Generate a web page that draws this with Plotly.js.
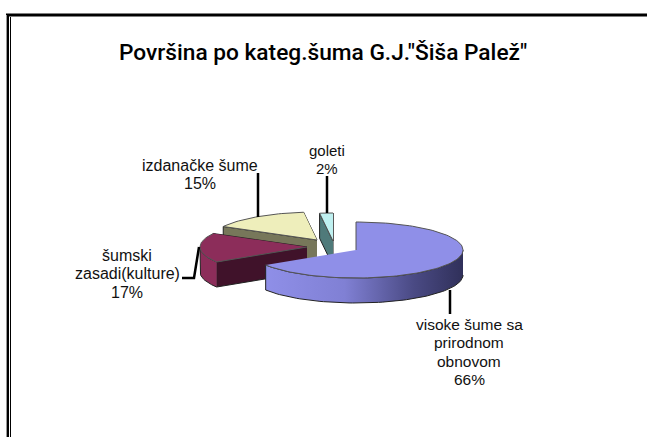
<!DOCTYPE html>
<html><head><meta charset="utf-8">
<script src="https://cdn.plot.ly/plotly-3.0.1.min.js"></script>
<style>html,body{margin:0;padding:0;background:#fff}</style></head>
<body><div id="c" style="width:647px;height:437px"></div>
<script>
const categories = ['visoke šume sa<br>prirodnom<br>obnovom','šumski<br>zasadi(kulture)','izdanačke šume','goleti'];
const shares = [66, 17, 15, 2];
const percentLabels = ['66%','17%','15%','2%'];
const topColors = ['#8f8fe8','#8c2d5a','#eeeebb','#bff0f0'];
const sideColors = ['#3c3c6c','#40122a','#77775a','#4f7a7a'];
const titleText = 'Površina po kateg.šuma G.J."Šiša Palež"';

// tilted-pie projection
const RX=107, RY=28, DEPTH=25;
const apex = [[356,250],[307,247],[317,240],[333,241]];
const total = shares.reduce((a,b)=>a+b,0);
const pt=(c,deg,dy=0)=>{const r=deg*Math.PI/180;return [c[0]+RX*Math.sin(r), c[1]-RY*Math.cos(r)+dy];};
function arc(c,a,b,dy=0){const n=Math.max(2,Math.ceil(Math.abs(b-a)/2)),o=[];
  for(let i=0;i<=n;i++)o.push(pt(c,a+(b-a)*i/n,dy));return o;}
function poly(points,color,extra={},lineColor='#222'){
  return Object.assign({type:'scatter',mode:'lines',x:points.map(p=>p[0]),y:points.map(p=>p[1]),
    fill:'toself',fillcolor:color,line:{color:lineColor,width:1},hoverinfo:'skip',showlegend:false},extra);}
const slices=[];let acc=0;
shares.forEach((v,i)=>{slices.push([acc,acc+v/total*360]);acc+=v/total*360;});
const traces=[];
const drawOrder=[3,2,1,0];
drawOrder.forEach(i=>{
  const [a,b]=slices[i],c=apex[i];
  if(i!==0){
    const e=pt(c,a); const e2=pt(c,b);
    traces.push(poly([c,e2,[e2[0],e2[1]+DEPTH],[c[0],c[1]+DEPTH]],sideColors[i]));
    traces.push(poly([c,e,[e[0],e[1]+DEPTH],[c[0],c[1]+DEPTH]],sideColors[i]));
  }
  const wa=Math.max(a,90),wb=Math.min(b,270);
  if(wb>wa){
    const top=arc(c,wa,wb),bot=arc(c,wb,wa,DEPTH);
    const extra = i===0 ? {fillgradient:{type:'horizontal',colorscale:[[0,'#8f8fe8'],[0.4,'#8080d4'],[0.75,'#4a4a84'],[1,'#30305a']]}} : (i===1?{fillcolor:'#8c2d5a'}:{});
    traces.push(poly(top.concat(bot),sideColors[i],extra));
  }
  traces.push(poly([c].concat(arc(c,a,b)),topColors[i],{},'#555'));
});
const seg=(pts)=>({type:'scatter',mode:'lines',x:pts.map(p=>p[0]),y:pts.map(p=>p[1]),
  line:{color:'#000',width:2.5},hoverinfo:'skip',showlegend:false});
traces.push(seg([[450,290],[450,314]]),seg([[258,173],[258,217]]),seg([[327,176],[327,213]]),
  seg([[199,247],[194,278],[182,278]]));

const PITCH=18.5;
const lab=(x,y,i,size=15)=>categories[i].split('<br>').concat(percentLabels[i]).map((t,k)=>({x,y:y+k*PITCH,xref:'x',yref:'y',text:t,showarrow:false,
  xanchor:'center',yanchor:'middle',font:{family:'Liberation Sans',size,color:'#111'}}));
const frame=(x0,y0,x1,y1,w,col='#000')=>({type:'line',x0,y0,x1,y1,xref:'x',yref:'y',line:{color:col,width:w}});
Plotly.newPlot('c',traces,{
  width:647,height:437,margin:{l:0,r:0,t:0,b:0},paper_bgcolor:'#fff',plot_bgcolor:'#fff',showlegend:false,
  xaxis:{range:[0,647],visible:false,fixedrange:true},
  yaxis:{range:[437,0],visible:false,fixedrange:true},
  shapes:[frame(6,15,647,15,3),frame(6.5,15,6.5,437,1,'#999'),frame(8,15,8,437,2),frame(10.5,17,10.5,437,1)],
  annotations:[
    {x:323,y:52,xref:'x',yref:'y',text:titleText,showarrow:false,xanchor:'center',yanchor:'middle',
     font:{family:'Roboto',size:22.7,weight:500,color:'#000'}},
    ...lab(469,324,0,15.5),...lab(127,255,1,16),...lab(200,165,2,16),...lab(327,150,3)
  ]
},{displayModeBar:false,staticPlot:true});
</script></body></html>
